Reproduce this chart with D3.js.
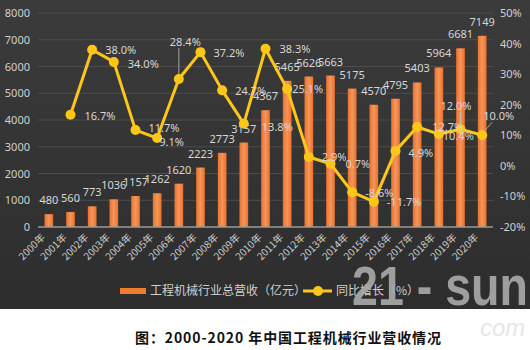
<!DOCTYPE html>
<html>
<head>
<meta charset="utf-8">
<script src="https://cdn.jsdelivr.net/npm/d3@7"></script>
<style>
  html, body { margin: 0; padding: 0; background: #fff; }
  svg { display: block; font-family: "Noto Sans CJK SC", "Noto Sans", sans-serif; }
</style>
</head>
<body>
<svg id="chart" width="530" height="350"></svg>
<script>
// Years, revenue (亿元) and year-on-year growth (%)
const years = ["2000年","2001年","2002年","2003年","2004年","2005年","2006年","2007年","2008年","2009年","2010年",
               "2011年","2012年","2013年","2014年","2015年","2016年","2017年","2018年","2019年","2020年"];
const revenue = [480, 560, 773, 1036, 1157, 1262, 1620, 2223, 2773, 3157, 4367,
                 5465, 5626, 5663, 5175, 4570, 4795, 5403, 5964, 6681, 7149];
const growth = [null, 16.7, 38.0, 34.0, 11.7, 9.1, 28.4, 37.2, 24.7, 13.8, 38.3,
                25.1, 2.9, 0.7, -8.6, -11.7, 4.9, 12.7, 10.4, 12.0, 10.0];
const leftTicks = [0, 1000, 2000, 3000, 4000, 5000, 6000, 7000, 8000];
const rightTicks = [-20, -10, 0, 10, 20, 30, 40, 50];
const legendNames = ["工程机械行业总营收（亿元）", "同比增长（%）"];
const caption = "图：2000-2020 年中国工程机械行业营收情况";

// Placement of each growth label relative to its point: [dx, dy, leader]
const growthLabelPos = [null, [14, 1], [13, 0], [14, 2], [13, -2], [2, 4], [-9, -37, true], [13, 1], [13, 1],
  [18, 3], [14, 0], [5, 0], [13, 0], [15, 0], [13, 1], [13, 1], [13, 2], [15, 0], [4, 2], [-20, -23, true], [1, -19, true]];

const svg = d3.select("#chart");
const W = 530, H = 350, chartH = 309;
const plot = { left: 38, right: 493, top: 13, bottom: 227 };

// Background gradient
const defs = svg.append("defs");
const bg = defs.append("linearGradient").attr("id", "bg").attr("x1", 0).attr("y1", 0).attr("x2", 0).attr("y2", 1);
bg.append("stop").attr("offset", "0%").attr("stop-color", "#3b3b3b");
bg.append("stop").attr("offset", "100%").attr("stop-color", "#2d2d2d");
const barGrad = defs.append("linearGradient").attr("id", "barGrad").attr("x1", 0).attr("y1", 0).attr("x2", 1).attr("y2", 0);
barGrad.append("stop").attr("offset", "0%").attr("stop-color", "#e8722c");
barGrad.append("stop").attr("offset", "50%").attr("stop-color", "#f7955a");
barGrad.append("stop").attr("offset", "100%").attr("stop-color", "#e8722c");

svg.append("rect").attr("width", W).attr("height", H).attr("fill", "#ffffff");
svg.append("rect").attr("width", W).attr("height", chartH).attr("fill", "url(#bg)");

const x = d3.scaleBand().domain(years).range([plot.left, plot.right]).paddingInner(0.6).paddingOuter(0.3);
const yL = d3.scaleLinear().domain([0, 8000]).range([plot.bottom, plot.top]);
const yR = d3.scaleLinear().domain([-20, 50]).range([plot.bottom, plot.top]);
const cx = d => x(d) + x.bandwidth() / 2;

// Gridlines
svg.append("g").selectAll("line").data(leftTicks.slice(1)).join("line")
  .attr("x1", plot.left).attr("x2", plot.right)
  .attr("y1", d => yL(d)).attr("y2", d => yL(d))
  .attr("stroke", "#4d4d4d").attr("stroke-width", 1);

// Left axis
const axL = svg.append("g").attr("transform", `translate(${plot.left},0)`)
  .call(d3.axisLeft(yL).tickValues(leftTicks).tickSize(0).tickPadding(8).tickFormat(d3.format("d")));
axL.select(".domain").remove();
axL.selectAll("text").attr("fill", "#d0d0d0").style("font-size", "11px").style("font-family", "Noto Sans, sans-serif");

// Right axis
const axR = svg.append("g").attr("transform", `translate(${plot.right},0)`)
  .call(d3.axisRight(yR).tickValues(rightTicks).tickSize(0).tickPadding(7).tickFormat(d => d + "%"));
axR.select(".domain").remove();
axR.selectAll("text").attr("fill", "#d0d0d0").style("font-size", "11px").style("font-family", "Noto Sans, sans-serif");

// Bars
svg.append("g").selectAll("rect").data(years).join("rect")
  .attr("x", d => x(d)).attr("width", x.bandwidth())
  .attr("y", (d, i) => yL(revenue[i])).attr("height", (d, i) => yL(0) - yL(revenue[i]))
  .attr("fill", "url(#barGrad)");

// Baseline
svg.append("line").attr("x1", plot.left).attr("x2", plot.right)
  .attr("y1", plot.bottom).attr("y2", plot.bottom).attr("stroke", "#9a9a9a").attr("stroke-width", 1.5);

// X axis labels (rotated)
svg.append("g").selectAll("text").data(years).join("text")
  .attr("transform", d => `translate(${cx(d) - 3},${plot.bottom + 11}) rotate(-45)`)
  .attr("text-anchor", "end").attr("fill", "#d0d0d0").style("font-size", "10px")
  .text(d => d);

// Revenue labels
svg.append("g").selectAll("text").data(years).join("text")
  .attr("x", d => cx(d)).attr("y", (d, i) => yL(revenue[i]) - 10)
  .attr("text-anchor", "middle").attr("fill", "#d6d6d6")
  .style("font-size", "11px").style("font-family", "Noto Sans, sans-serif")
  .text((d, i) => revenue[i]);

// Growth line
const pts = years.map((d, i) => ({ year: d, v: growth[i], i })).filter(p => p.v !== null);
const line = d3.line().x(p => cx(p.year)).y(p => yR(p.v));
svg.append("path").datum(pts).attr("d", line)
  .attr("fill", "none").attr("stroke", "#ffc61a").attr("stroke-width", 3).attr("stroke-linejoin", "round");
svg.append("g").selectAll("circle").data(pts).join("circle")
  .attr("cx", p => cx(p.year)).attr("cy", p => yR(p.v)).attr("r", 5)
  .attr("fill", "#ffc61a");

// Growth labels
const gl = svg.append("g");
pts.forEach(p => {
  const pos = growthLabelPos[p.i];
  const px = cx(p.year), py = yR(p.v);
  const tx = px + pos[0], ty = py + pos[1];
  if (pos[2]) {
    gl.append("line").attr("x1", px + (pos[0] > 0 ? 3 : 0)).attr("y1", py - 5)
      .attr("x2", px + (pos[0] > 0 ? 10 : 0)).attr("y2", ty + 6)
      .attr("stroke", "#bfbfbf").attr("stroke-width", 0.8);
  }
  gl.append("text").attr("x", pos[2] && pos[0] < 0 ? px + pos[0] : tx)
    .attr("y", ty).attr("dy", "0.35em")
    .attr("fill", "#d6d6d6").style("font-size", "11px").style("font-family", "Noto Sans, sans-serif")
    .text(p.v.toFixed(1) + "%");
});

// Legend
const lg = svg.append("g").attr("transform", "translate(0,291)");
lg.append("rect").attr("x", 120).attr("y", -3).attr("width", 26).attr("height", 6).attr("fill", "#ed7d31");
lg.append("text").attr("x", 150).attr("y", 0).attr("dy", "0.35em").attr("fill", "#d0d0d0")
  .style("font-size", "12px").text(legendNames[0]);
lg.append("line").attr("x1", 303).attr("x2", 332).attr("y1", 0).attr("y2", 0)
  .attr("stroke", "#ffc61a").attr("stroke-width", 3);
lg.append("circle").attr("cx", 318).attr("cy", 0).attr("r", 5).attr("fill", "#ffc61a");
lg.append("text").attr("x", 336).attr("y", 0).attr("dy", "0.35em").attr("fill", "#d0d0d0")
  .style("font-size", "12px").text(legendNames[1]);

// Site mark
svg.append("text").attr("x", 352).attr("y", 305).attr("fill", "#a8a8a8").attr("fill-opacity", 0.92)
  .attr("textLength", 176).attr("lengthAdjust", "spacingAndGlyphs")
  .style("font-size", "56px").style("font-weight", "bold").style("font-family", "Liberation Sans, Arial, sans-serif")
  .text("21 - sun");
svg.append("text").attr("x", 480).attr("y", 336).attr("fill", "#e6e6e6")
  .style("font-size", "24px").style("font-style", "italic").style("font-family", "Liberation Sans, sans-serif")
  .text("com");

// Caption
svg.append("text").attr("x", 135).attr("y", 343).attr("fill", "#111")
  .attr("textLength", 306).attr("lengthAdjust", "spacing")
  .style("font-size", "14px").style("font-weight", "bold").text(caption);
</script>
</body>
</html>
